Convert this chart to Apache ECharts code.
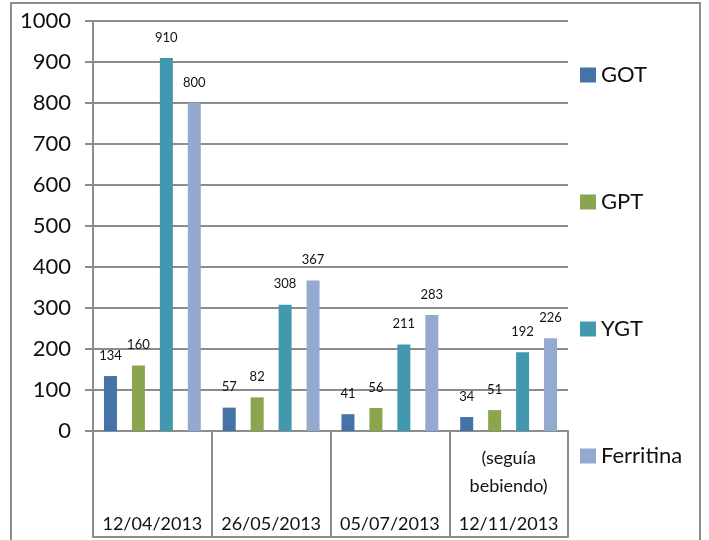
<!DOCTYPE html>
<html>
<head>
<meta charset="utf-8">
<script src="https://cdn.jsdelivr.net/npm/echarts@6/dist/echarts.min.js"></script>
<style>
  html, body { margin: 0; padding: 0; background: #fff; }
</style>
</head>
<body>
<div id="chart" style="width: 709px; height: 540px"></div>
<script>
// datos
const fechas = ["12/04/2013", "26/05/2013", "05/07/2013", "12/11/2013"];
const got = [134, 57, 41, 34];
const gpt = [160, 82, 56, 51];
const ygt = [910, 308, 211, 192];
const ferritina = [800, 367, 283, 226];
const nombres = ["GOT", "GPT", "YGT", "Ferritina"];
const colores = ["#4572a7", "#89a54e", "#4198af", "#93a9cf"];

const fuente = "Lato";
const gris = "#8c8c8c";

const myChart = echarts.init(document.getElementById("chart"));

function serie(i, data) {
  return {
    name: nombres[i],
    type: "bar",
    barWidth: 13,
    barGap: "115%",
    itemStyle: { color: colores[i] },
    label: {
      show: true,
      position: "top",
      distance: 14,
      color: "#111",
      fontFamily: fuente,
      fontSize: 13,
    },
    data: data,
  };
}

const option = {
  animation: false,
  textStyle: { fontFamily: fuente },
  graphic: [
    {
      type: "rect",
      shape: { x: 11, y: 3, width: 689, height: 600 },
      style: { fill: "none", stroke: gris, lineWidth: 2 },
      silent: true,
    },
  ],
  grid: {
    left: 93,
    right: 141,
    top: 21,
    bottom: 109,
  },
  legend: {
    orient: "vertical",
    left: 580,
    top: 64,
    padding: 0,
    itemWidth: 16,
    itemHeight: 15,
    itemGap: 105,
    icon: "rect",
    textStyle: {
      fontFamily: fuente,
      fontSize: 22,
      lineHeight: 22,
      color: "#111",
    },
    data: nombres,
  },
  xAxis: [
    {
      type: "category",
      data: fechas,
      axisLine: { show: true, lineStyle: { color: gris, width: 2 } },
      axisTick: { show: true, length: 106, lineStyle: { color: gris, width: 2 } },
      axisLabel: {
        margin: 103,
        verticalAlign: "bottom",
        interval: 0,
        formatter: function (v, idx) {
          if (idx === 3) {
            return "{n|(seguía}\n{n|bebiendo)}\n{s| }\n{d|" + v + "}";
          }
          return "{d|" + v + "}";
        },
        rich: {
          n: { fontFamily: fuente, fontSize: 18, lineHeight: 28, color: "#111" },
          s: { fontSize: 6, lineHeight: 14 },
          d: { fontFamily: fuente, fontSize: 18, lineHeight: 20, color: "#111" },
        },
      },
    },
    {
      type: "category",
      data: fechas,
      position: "bottom",
      offset: 106,
      axisLine: { show: true, lineStyle: { color: gris, width: 2 } },
      axisTick: { show: false },
      axisLabel: { show: false },
    },
  ],
  yAxis: {
    type: "value",
    min: 0,
    max: 1000,
    interval: 100,
    axisLine: { show: true, lineStyle: { color: gris, width: 2 } },
    axisTick: { show: true, length: 8, lineStyle: { color: gris, width: 2 } },
    axisLabel: {
      margin: 22,
      fontFamily: fuente,
      fontSize: 22,
      color: "#111",
      formatter: function (v) { return String(v); },
    },
    splitLine: { show: true, lineStyle: { color: gris, width: 2 } },
  },
  series: [
    serie(0, got),
    serie(1, gpt),
    serie(2, ygt),
    serie(3, ferritina),
  ],
};

myChart.setOption(option);
</script>
</body>
</html>
